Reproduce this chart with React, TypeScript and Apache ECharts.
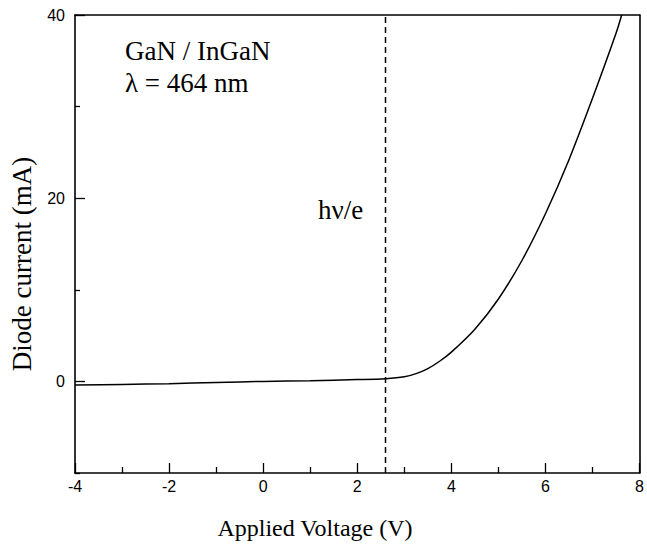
import React, { useEffect, useRef } from "react";
import * as echarts from "echarts";

// Diode I-V characteristic
const voltage = [-4, -3, -2, -1, 0, 1, 2, 2.6, 3.0, 3.25, 3.5, 3.75, 4.0, 4.5, 5.0, 5.5, 6.0, 6.5, 7.0, 7.5, 7.62];
const current = [-0.4, -0.33, -0.25, -0.12, 0, 0.08, 0.2, 0.3, 0.5, 0.85, 1.4, 2.2, 3.2, 5.7, 9.0, 13.2, 18.3, 24.2, 30.9, 38.0, 40];

// photon energy marker hν/e (V)
const photonVoltage = 2.6;

const xMin = -4;
const xMax = 8;
const xStep = 2;
const yMin = -10;
const yMax = 40;
const yMajorTicks = [0, 20, 40];
const yMinorTicks = [-10, 10, 30];

const annotationLines = ["GaN / InGaN", "λ = 464 nm"];
const markerLabel = "hν/e";
const xTitle = "Applied Voltage (V)";
const yTitle = "Diode current (mA)";

const serif = "'Liberation Serif', 'Times New Roman', serif";
const sans = "'Liberation Sans', Arial, sans-serif";

export default function App() {
  const ref = useRef<HTMLDivElement>(null);

  useEffect(() => {
    if (!ref.current) return;
    const chart = echarts.init(ref.current, undefined, { renderer: "svg" });
    const ivData = voltage.map((v, i) => [v, current[i]]);
    const markerData = [
      [photonVoltage, yMin],
      [photonVoltage, yMax],
    ];
    const axisLineStyle = { color: "#000", width: 1.6 };
    chart.setOption({
      animation: false,
      backgroundColor: "#fff",
      grid: { left: 75, right: 4, top: 15, bottom: 71, containLabel: false },
      xAxis: [
        {
          type: "value",
          min: xMin,
          max: xMax,
          interval: xStep,
          position: "bottom",
          axisLine: { show: true, onZero: false, lineStyle: axisLineStyle },
          axisTick: { show: true, inside: true, length: 10, lineStyle: { color: "#000", width: 1.3 } },
          minorTick: { show: true, splitNumber: 2, length: 6, lineStyle: { color: "#000", width: 1.3 } },
          axisLabel: { color: "#000", fontFamily: sans, fontSize: 16, margin: 5 },
          splitLine: { show: false },
        },
        {
          type: "value",
          min: xMin,
          max: xMax,
          position: "top",
          axisLine: { show: true, onZero: false, lineStyle: axisLineStyle },
          axisTick: { show: false },
          axisLabel: { show: false },
          splitLine: { show: false },
        },
      ],
      yAxis: [
        {
          type: "value",
          min: yMin,
          max: yMax,
          interval: 10,
          position: "left",
          axisLine: { show: true, onZero: false, lineStyle: axisLineStyle },
          axisTick: {
            show: true,
            inside: true,
            length: 10,
            customValues: yMajorTicks,
            lineStyle: { color: "#000", width: 1.3 },
          },
          axisLabel: { color: "#000", fontFamily: sans, fontSize: 16, margin: 10, customValues: yMajorTicks },
          splitLine: { show: false },
        },
        {
          type: "value",
          min: yMin,
          max: yMax,
          interval: 10,
          position: "left",
          axisLine: { show: false, onZero: false },
          axisTick: {
            show: true,
            inside: true,
            length: 5,
            customValues: yMinorTicks,
            lineStyle: { color: "#000", width: 1.3 },
          },
          axisLabel: { show: false },
          splitLine: { show: false },
        },
        {
          type: "value",
          min: yMin,
          max: yMax,
          position: "right",
          axisLine: { show: true, onZero: false, lineStyle: axisLineStyle },
          axisTick: { show: false },
          axisLabel: { show: false },
          splitLine: { show: false },
        },
      ],
      series: [
        {
          type: "line",
          xAxisIndex: 0,
          yAxisIndex: 0,
          data: ivData,
          smooth: 0.3,
          symbol: "none",
          lineStyle: { color: "#000", width: 1.5 },
          clip: true,
        },
        {
          type: "line",
          xAxisIndex: 0,
          yAxisIndex: 0,
          data: markerData,
          symbol: "none",
          lineStyle: { color: "#000", width: 1.5, type: [6, 4] },
        },
      ],
      graphic: [
        {
          type: "text",
          left: 125,
          top: 37,
          style: { text: annotationLines[0], font: `27px ${serif}`, fill: "#000" },
        },
        {
          type: "text",
          left: 125,
          top: 69,
          style: { text: annotationLines[1], font: `27px ${serif}`, fill: "#000" },
        },
        {
          type: "text",
          left: 318,
          top: 196,
          style: { text: markerLabel, font: `27px ${serif}`, fill: "#000" },
        },
        {
          type: "text",
          x: 315,
          y: 528,
          style: { text: xTitle, font: `24px ${serif}`, fill: "#000", align: "center", verticalAlign: "middle" },
        },
        {
          type: "text",
          x: 22,
          y: 264,
          rotation: Math.PI / 2,
          style: { text: yTitle, font: `27px ${serif}`, fill: "#000", align: "center", verticalAlign: "middle" },
        },
      ],
    });
    return () => chart.dispose();
  }, []);

  return (
    <div
      ref={ref}
      style={{ position: "fixed", left: 0, top: 0, width: 647, height: 544, background: "#fff" }}
    />
  );
}
